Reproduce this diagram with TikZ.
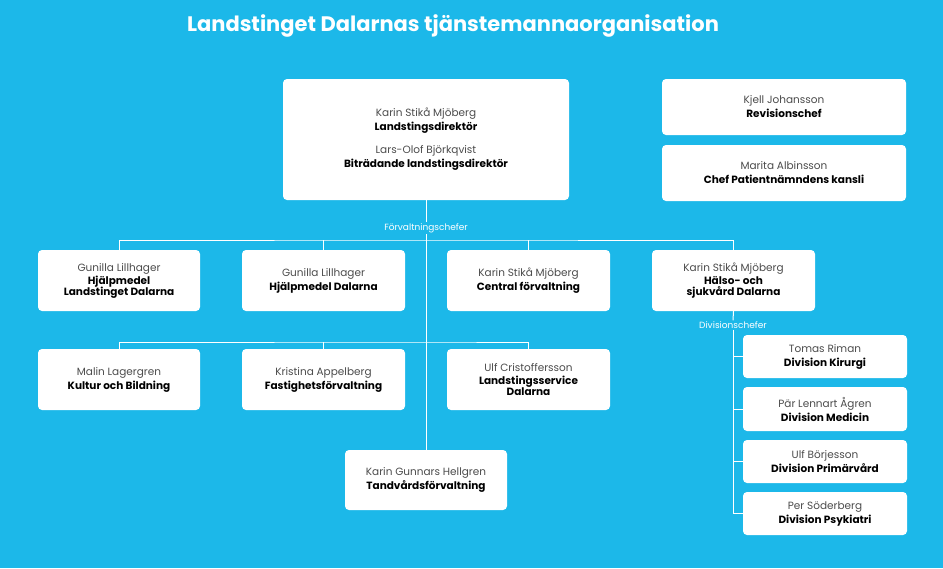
\documentclass[tikz,border=0pt]{standalone}
\usepackage{fontspec}
\setmainfont{Poppins}
\usetikzlibrary{positioning}
\definecolor{skyblue}{HTML}{1CB8E9}
\tikzset{
  post/.style={
    rectangle,
    rounded corners=4pt,
    fill=white,
    align=center,
    font=\fontsize{10.5}{13}\selectfont,
    inner sep=0pt
  },
  link/.style={
    white,
    line width=1pt
  },
  tag/.style={
    text=white,
    font=\fontsize{9}{11}\selectfont,
    inner sep=1pt
  },
}
\newcommand{\who}[1]{{\color{black!70}#1}}
\newcommand{\role}[1]{\textbf{#1}}

\begin{document}
\begin{tikzpicture}[x=1pt,y=-1pt]
  \fill[skyblue] (0,0) rectangle (943,568);
  \useasboundingbox (0,0) rectangle (943,568);

  % Title
  \node (title) at (453,26) [text=white, font=\fontsize{21}{24}\selectfont\bfseries] {Landstinget Dalarnas tjänstemannaorganisation};

  % Top boxes
  \node (chief) at (426,139.5) [post, minimum width=286, minimum height=121]
    {\who{Karin Stikå Mjöberg}\\[1pt] \role{Landstingsdirektör}\\[10pt]
     \who{Lars-Olof Björkqvist}\\[1pt] \role{Biträdande landstingsdirektör}};
  \node (audit) at (784,107) [post, minimum width=244, minimum height=56]
    {\who{Kjell Johansson}\\[1pt] \role{Revisionschef}};
  \node (patient) at (784,173) [post, minimum width=244, minimum height=56]
    {\who{Marita Albinsson}\\[1pt] \role{Chef Patientnämndens kansli}};

  % Administration heads
  \node (aid1) at (119,280.5) [post, minimum width=162, minimum height=61]
    {\who{Gunilla Lillhager}\\ \role{Hjälpmedel}\\[-2pt] \role{Landstinget Dalarna}};
  \node (aid2) at (323.5,280.5) [post, minimum width=163, minimum height=61]
    {\who{Gunilla Lillhager}\\[1pt] \role{Hjälpmedel Dalarna}};
  \node (central) at (528.5,280.5) [post, minimum width=163, minimum height=61]
    {\who{Karin Stikå Mjöberg}\\[1pt] \role{Central förvaltning}};
  \node (health) at (733.5,280.5) [post, minimum width=163, minimum height=61]
    {\who{Karin Stikå Mjöberg}\\ \role{Hälso- och}\\[-2pt] \role{sjukvård Dalarna}};

  \node (culture) at (119,379.5) [post, minimum width=162, minimum height=61]
    {\who{Malin Lagergren}\\[1pt] \role{Kultur och Bildning}};
  \node (estate) at (323.5,379.5) [post, minimum width=163, minimum height=61]
    {\who{Kristina Appelberg}\\[1pt] \role{Fastighetsförvaltning}};
  \node (service) at (528.5,379.5) [post, minimum width=163, minimum height=61]
    {\who{Ulf Cristoffersson}\\ \role{Landstingsservice}\\[-2pt] \role{Dalarna}};
  \node (dental) at (426,480) [post, minimum width=162, minimum height=60]
    {\who{Karin Gunnars Hellgren}\\[1pt] \role{Tandvårdsförvaltning}};

  % Divisions
  \node (surgery) at (825,356.5) [post, minimum width=164, minimum height=43]
    {\who{Tomas Riman}\\[1pt] \role{Division Kirurgi}};
  \node (medicine) at (825,409) [post, minimum width=164, minimum height=44]
    {\who{Pär Lennart Ågren}\\[1pt] \role{Division Medicin}};
  \node (primary) at (825,461.5) [post, minimum width=164, minimum height=43]
    {\who{Ulf Börjesson}\\[1pt] \role{Division Primärvård}};
  \node (psych) at (825,513.5) [post, minimum width=164, minimum height=43]
    {\who{Per Söderberg}\\[1pt] \role{Division Psykiatri}};

  % Labels
  \node (admins) at (426,228) [tag] {Förvaltningschefer};
  \node (divs) at (733,325) [tag] {Divisionschefer};

  % Lines
  \coordinate (row1) at (426,240);
  \coordinate (row2) at (426,342);
  \draw[link] (chief.south) -- (admins.north);
  \draw[link] (admins.south) -- (dental.north);
  \draw[link] (aid1.north) |- (row1) -| (health.north);
  \draw[link] (aid2.north) -- (aid2.north |- row1);
  \draw[link] (central.north) -- (central.north |- row1);
  \draw[link] (culture.north) |- (row2) -| (service.north);
  \draw[link] (estate.north) -- (estate.north |- row2);
  \draw[link] (health.south) -- (divs.north);
  \draw[link] (divs.south) |- (psych.west);
  \foreach \d in {surgery, medicine, primary}
    \draw[link] (divs.south |- \d.west) -- (\d.west);

\end{tikzpicture}
\end{document}
